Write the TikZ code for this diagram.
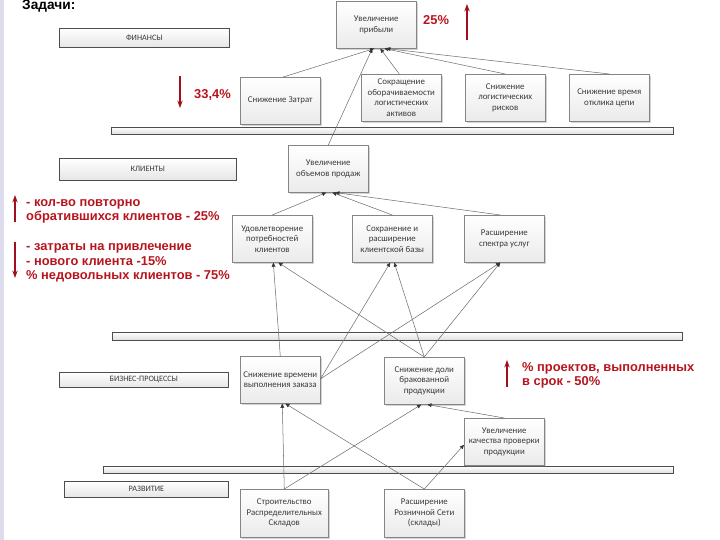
\documentclass[tikz,border=0pt]{standalone}
\usepackage{fontspec}
\setmainfont{Carlito}
\newfontfamily\notefont{Liberation Sans}
\usetikzlibrary{arrows.meta,calc,shadows}
\definecolor{cInk}{HTML}{3A3A3A}
\definecolor{cBorder}{HTML}{858585}
\definecolor{cEdge}{HTML}{4D4D4D}
\definecolor{cLine}{HTML}{6E6E6E}
\definecolor{cTip}{HTML}{363636}
\definecolor{cRed}{HTML}{B8141E}
\definecolor{cRedA}{HTML}{A0101C}
\definecolor{cStrip}{HTML}{DCDCEC}
\tikzset{
  goal/.style={draw=cBorder,top color=white,bottom color=black!8,line width=0.5pt,anchor=north west,
    minimum width=2.667cm,minimum height=1.567cm,align=center,font=\fontsize{8.4}{10}\selectfont,text=cInk,inner sep=1pt,
    drop shadow={shadow xshift=1.2pt,shadow yshift=-1.2pt,opacity=0.35}},
  cat/.style={draw=cEdge,top color=white,bottom color=black!10,line width=0.6pt,anchor=north west,
    font=\fontsize{7.8}{9}\selectfont,text=cInk,inner sep=0pt,
    drop shadow={shadow xshift=1pt,shadow yshift=-1pt,opacity=0.35}},
  bar/.style={draw=cEdge,top color=white,bottom color=black!12,line width=0.6pt,
    drop shadow={shadow xshift=1pt,shadow yshift=-1pt,opacity=0.35}},
  arr/.style={-{Triangle[length=4pt,width=3.5pt,color=cTip]},draw=cLine,line width=0.5pt},
  redarr/.style={-{Stealth[length=7pt,width=5pt]},draw=cRedA,line width=1.3pt},
  note/.style={font=\notefont\bfseries\fontsize{12.2}{13.8}\selectfont,text=cRed,align=left,anchor=west,inner sep=0pt},
}
\begin{document}
\begin{tikzpicture}[x=0.03333cm,y=-0.03333cm]
    \useasboundingbox (0,0) rectangle (720,540);
    \fill[cStrip] (0,0) rectangle (4,540);
    \node[anchor=base west,inner sep=0pt,font=\notefont\bfseries\fontsize{13}{15}\selectfont] (title) at (22,10) {Задачи:};
    % level bars
    \draw[bar] (111,127) rectangle (673,134);
    \draw[bar] (112,332) rectangle (682,340);
    \draw[bar] (103,466) rectangle (673,473);
    % perspectives
    \node[cat,minimum width=5.667cm,minimum height=0.633cm] (fin) at (59,28) {ФИНАНСЫ};
    \node[cat,minimum width=5.9cm,minimum height=0.733cm] (cli) at (59,158) {КЛИЕНТЫ};
    \node[cat,minimum width=5.633cm,minimum height=0.5cm] (biz) at (59,372) {БИЗНЕС-ПРОЦЕССЫ};
    \node[cat,minimum width=5.467cm,minimum height=0.533cm] (dev) at (64,481) {РАЗВИТИЕ};
    % finance
    \node[goal] (profit) at (336,1) {Увеличение\\прибыли};
    \node[goal] (cost) at (240,77) {Снижение Затрат};
    \node[goal] (turn) at (361,74) {Сокращение\\оборачиваемости\\логистических\\активов};
    \node[goal] (risk) at (465,74) {Снижение\\логистических\\рисков};
    \node[goal] (resp) at (569,74) {Снижение время\\отклика цепи};
    % clients
    \node[goal] (sales) at (288,145) {Увеличение\\объемов продаж};
    \node[goal] (need) at (232,215) {Удовлетворение\\потребностей\\клиентов};
    \node[goal] (keep) at (352,215) {Сохранение и\\расширение\\клиентской базы};
    \node[goal] (range) at (464,215) {Расширение\\спектра услуг};
    % business processes
    \node[goal] (time) at (240,356) {Снижение времени\\выполнения заказа};
    \node[goal] (defect) at (384,357) {Снижение доли\\бракованной\\продукции};
    \node[goal] (quality) at (464,418) {Увеличение\\качества проверки\\продукции};
    % development
    \node[goal,minimum width=2.933cm,minimum height=1.6cm] (build) at (240,489) {Строительство\\Распределительных\\Складов};
    \node[goal,minimum height=1.6cm] (retail) at (384,489) {Расширение\\Розничной Сети\\(склады)};
    % links
    \draw[arr] ($(cost.north)+(3,0)$) -- ($(profit.south)+(-2,0)$);
    \draw[arr] ($(turn.north)+(-2,0)$) -- ($(profit.south)+(4,0)$);
    \draw[arr] (risk.north) -- ($(profit.south)+(8,0)$);
    \draw[arr] (resp.north) -- ($(profit.south)+(10,0)$);
    \draw[arr] (sales.north) -- ($(profit.south)+(-4,0)$);
    \draw[arr] (need.north) -- ($(sales.south)+(-2,0)$);
    \draw[arr] (keep.north) -- ($(sales.south)+(4,0)$);
    \draw[arr] ($(range.north)+(-4,0)$) -- ($(sales.south)+(7,0)$);
    \draw[arr] (time.north) -- ($(need.south)+(1,0)$);
    \draw[arr] ($(time.east)+(0,-1)$) -- ($(keep.south)+(-2,0)$);
    \draw[arr] ($(time.east)+(0,-1)$) -- ($(range.south)+(-4,0)$);
    \draw[arr] (defect.north) -- ($(need.south)+(6,0)$);
    \draw[arr] (defect.north) -- ($(keep.south)+(2,0)$);
    \draw[arr] (defect.north) -- ($(range.south)+(-4,0)$);
    \draw[arr] (build.north) -- ($(time.south)+(2,0)$);
    \draw[arr] (build.north) -- ($(defect.south)+(-3,0)$);
    \draw[arr] (retail.north) -- ($(time.south)+(5,0)$);
    \draw[arr] (retail.north) -- ($(quality.west)+(0,3)$);
    \draw[arr] (quality.north) -- ($(defect.south)+(3,0)$);
    % targets
    \draw[redarr] (467,40) -- (467,4);
    \node[note] (n1) at (423,20) {25\%};
    \draw[redarr] (180,76) -- (180,108);
    \node[note] (n2) at (194,95) {33,4\%};
    \draw[redarr] (15,222) -- (15,195);
    \node[note] (n3) at (26,211.5) {- кол-во повторно\\обратившихся клиентов - 25\%};
    \draw[redarr] (15,242) -- (15,278);
    \node[note] (n4) at (26,263) {- затраты на привлечение\\- нового клиента -15\%\\\% недовольных клиентов - 75\%};
    \draw[redarr] (507,387) -- (507,360);
    \node[note] (n5) at (522,375.5) {\% проектов, выполненных\\в срок - 50\%};
\end{tikzpicture}
\end{document}
